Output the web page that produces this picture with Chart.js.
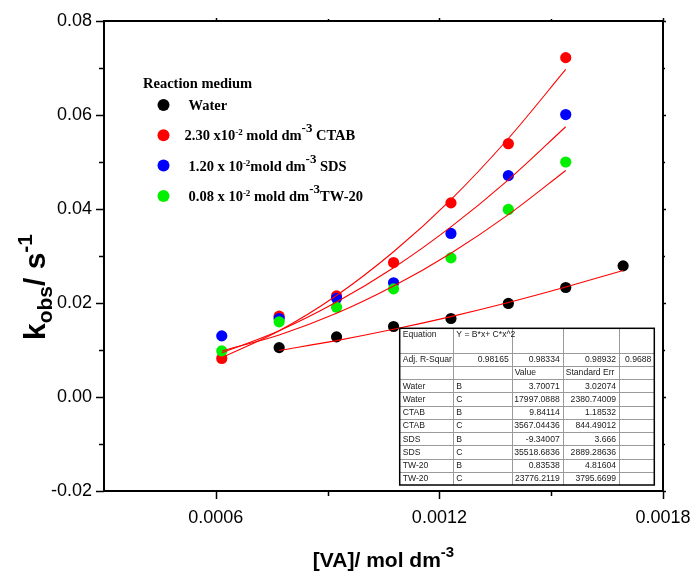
<!DOCTYPE html>
<html>
<head>
<meta charset="utf-8">
<script src="https://cdn.jsdelivr.net/npm/chart.js@4.4.1/dist/chart.umd.min.js"></script>
<style>
  html, body { margin: 0; padding: 0; background: #ffffff; }
  #wrap { width: 692px; height: 571px; }
</style>
</head>
<body>
<div id="wrap"><canvas id="chart" width="692" height="571"></canvas></div>
<script>
// [VA] concentrations (mol dm^-3)
const surfactantConc = [0.000616, 0.000770, 0.000924, 0.001077, 0.001231, 0.001385, 0.001539];
const waterConc = [0.000770, 0.000924, 0.001077, 0.001231, 0.001385, 0.001539, 0.001693];

// observed rate constants k_obs (s^-1)
const kWater = [0.0105, 0.0128, 0.0150, 0.0167, 0.0199, 0.0233, 0.0279];
const kCTAB  = [0.0082, 0.0172, 0.0215, 0.0286, 0.0413, 0.0539, 0.0722];
const kSDS   = [0.0130, 0.0167, 0.0210, 0.0243, 0.0348, 0.0471, 0.0601];
const kTW20  = [0.0098, 0.0160, 0.0191, 0.0230, 0.0296, 0.0399, 0.0500];

// fitted curves Y = B*x + C*x^2, sampled at the same concentrations
const fitWater = [0.0099, 0.0120, 0.0144, 0.0171, 0.0201, 0.0234, 0.0269];
const fitCTAB  = [0.0084, 0.0141, 0.0216, 0.0309, 0.0420, 0.0550, 0.0697];
const fitSDS   = [0.0094, 0.0141, 0.0202, 0.0275, 0.0362, 0.0462, 0.0575];
const fitTW20  = [0.0098, 0.0132, 0.0178, 0.0236, 0.0306, 0.0388, 0.0482];

// axis ticks
const xMajorTicks = [0.0006, 0.0012, 0.0018];
const xTickLabels = ['0.0006', '0.0012', '0.0018'];
const xMinorTicks = [0.0009, 0.0015];
const yMajorTicks = [-0.02, 0.00, 0.02, 0.04, 0.06, 0.08];
const yTickLabels = ['-0.02', '0.00', '0.02', '0.04', '0.06', '0.08'];
const yMinorTicks = [-0.01, 0.01, 0.03, 0.05, 0.07];

// legend
const legendTitle = 'Reaction medium';
const seriesColors = ['#000000', '#ff0000', '#0000ff', '#00f000'];
// segment kinds: 0 = normal, 1 = small superscript, 2 = large superscript
const legendLabels = [
  [['Water', 0]],
  [['2.30 x10', 0], ['-2', 1], [' mold dm', 0], ['-3', 2], [' CTAB', 0]],
  [['1.20 x 10', 0], ['-2', 1], ['mold dm', 0], ['-3', 2], [' SDS', 0]],
  [['0.08 x 10', 0], ['-2', 1], [' mold dm', 0], ['-3', 2], ['TW-20', 0]]
];

// fit report table
const fitEquation = 'Y = B*x+ C*x^2';
const adjRSquare = ['0.98165', '0.98334', '0.98932', '0.9688'];
const paramHeader = ['', '', 'Value', 'Standard Err', ''];
const paramSeries = ['Water', 'Water', 'CTAB', 'CTAB', 'SDS', 'SDS', 'TW-20', 'TW-20'];
const paramNames  = ['B', 'C', 'B', 'C', 'B', 'C', 'B', 'C'];
const paramValues = ['3.70071', '17997.0888', '9.84114', '3567.04436', '-9.34007', '35518.6836', '0.83538', '23776.2119'];
const paramErrors = ['3.02074', '2380.74009', '1.18532', '844.49012', '3.666', '2889.28636', '4.81604', '3795.6699'];

const SANS = '"Liberation Sans", Arial, Helvetica, sans-serif';
const SERIF = '"Liberation Serif", "Times New Roman", Times, serif';

function pts(xs, ys) { return xs.map((x, i) => ({ x: x, y: ys[i] })); }

function richWidth(ctx, segs) {
  let w = 0;
  for (const s of segs) { ctx.font = s.font; w += ctx.measureText(s.t).width; }
  return w;
}
function drawRich(ctx, segs, x, y) {
  let cx = x;
  for (const s of segs) {
    ctx.font = s.font;
    ctx.fillText(s.t, cx, y + s.dy);
    cx += ctx.measureText(s.t).width;
  }
}

const decorations = {
  id: 'decorations',
  afterDatasetsDraw(chart) {
    const ctx = chart.ctx;
    const area = chart.chartArea;
    const xs = chart.scales.x, ys = chart.scales.y;
    ctx.save();

    // frame
    ctx.strokeStyle = '#000';
    ctx.lineWidth = 2;
    ctx.strokeRect(area.left, area.top, area.right - area.left, area.bottom - area.top);

    // tick marks
    ctx.lineWidth = 1.5;
    ctx.beginPath();
    for (const v of xMajorTicks) {
      const px = Math.round(xs.getPixelForValue(v)) + 0.5;
      ctx.moveTo(px, area.bottom); ctx.lineTo(px, area.bottom + 8);
      ctx.moveTo(px, area.top); ctx.lineTo(px, area.top - 3);
    }
    for (const v of xMinorTicks) {
      const px = Math.round(xs.getPixelForValue(v)) + 0.5;
      ctx.moveTo(px, area.bottom); ctx.lineTo(px, area.bottom + 5);
      ctx.moveTo(px, area.top); ctx.lineTo(px, area.top - 2);
    }
    for (const v of yMajorTicks) {
      const py = Math.round(ys.getPixelForValue(v)) + 0.5;
      ctx.moveTo(area.left, py); ctx.lineTo(area.left - 8, py);
      ctx.moveTo(area.right, py); ctx.lineTo(area.right + 3, py);
    }
    for (const v of yMinorTicks) {
      const py = Math.round(ys.getPixelForValue(v)) + 0.5;
      ctx.moveTo(area.left, py); ctx.lineTo(area.left - 5, py);
      ctx.moveTo(area.right, py); ctx.lineTo(area.right + 2, py);
    }
    ctx.stroke();

    // axis titles
    ctx.fillStyle = '#000';
    ctx.textBaseline = 'alphabetic';
    const big = 'bold 21px ' + SANS, small = 'bold 15px ' + SANS;
    const xTitle = [
      { t: '[VA]/ mol dm', font: big, dy: 0 },
      { t: '-3', font: small, dy: -10 }
    ];
    const xw = richWidth(ctx, xTitle);
    drawRich(ctx, xTitle, (area.left + area.right) / 2 - xw / 2, 567);

    const bigY = 'bold 30px ' + SANS, smallY = 'bold 21px ' + SANS;
    const yTitle = [
      { t: 'k', font: bigY, dy: 0 },
      { t: 'obs', font: smallY, dy: 7 },
      { t: '/ s', font: bigY, dy: 0 },
      { t: '-1', font: smallY, dy: -13 }
    ];
    const yw = richWidth(ctx, yTitle);
    ctx.save();
    ctx.translate(45, 287);
    ctx.rotate(-Math.PI / 2);
    drawRich(ctx, yTitle, -yw / 2, 0);
    ctx.restore();

    // legend
    const lx = area.left + 39, ly = area.top + 67;
    ctx.font = 'bold 14.5px ' + SERIF;
    ctx.fillText(legendTitle, lx, ly);
    const kinds = [
      { font: 'bold 14.5px ' + SERIF, dy: 0 },
      { font: 'bold 9px ' + SERIF, dy: -5 },
      { font: 'bold 13px ' + SERIF, dy: -8 }
    ];
    legendLabels.forEach((label, i) => {
      const cy = ly + 17 + i * 30.3;
      ctx.fillStyle = seriesColors[i];
      ctx.beginPath();
      ctx.arc(lx + 20.5, cy, 6, 0, Math.PI * 2);
      ctx.fill();
      ctx.fillStyle = '#000';
      const segs = label.map(([t, k]) => ({ t: t, font: kinds[k].font, dy: kinds[k].dy }));
      drawRich(ctx, segs, lx + (i === 1 ? 41.5 : 45.5), cy + 5);
    });

    // fit report table
    const colW = [53.6, 58.4, 51, 56.3, 35.3];
    const firstRowH = 24.4, rowH = 13.23;
    const nRows = 10;
    const tW = colW.reduce((a, b) => a + b, 0);
    const tH = firstRowH + nRows * rowH;
    const tRight = area.right - 8.7, tBottom = area.bottom - 6;
    const tLeft = tRight - tW, tTop = tBottom - tH;
    ctx.fillStyle = '#fff';
    ctx.fillRect(tLeft, tTop, tW, tH);
    const colX = [tLeft];
    colW.forEach(w => colX.push(colX[colX.length - 1] + w));
    const rowY = [tTop, tTop + firstRowH];
    for (let r = 1; r <= nRows; r++) rowY.push(tTop + firstRowH + r * rowH);

    ctx.strokeStyle = '#9a9a9a';
    ctx.lineWidth = 1;
    ctx.beginPath();
    for (let c = 1; c < colX.length - 1; c++) { ctx.moveTo(Math.round(colX[c]) + 0.5, tTop); ctx.lineTo(Math.round(colX[c]) + 0.5, tBottom); }
    for (let r = 1; r < rowY.length - 1; r++) { ctx.moveTo(tLeft, Math.round(rowY[r]) + 0.5); ctx.lineTo(tRight, Math.round(rowY[r]) + 0.5); }
    ctx.stroke();
    ctx.strokeStyle = '#000';
    ctx.lineWidth = 1.5;
    ctx.strokeRect(tLeft, tTop, tW, tH);

    ctx.font = '8.6px ' + SANS;
    ctx.fillStyle = '#1a1a1a';
    ctx.textBaseline = 'middle';
    function cell(text, c, r, align, yOverride) {
      const y = yOverride !== undefined ? yOverride : (rowY[r] + rowY[r + 1]) / 2 + 0.5;
      ctx.save();
      ctx.beginPath();
      ctx.rect(colX[c] + 1, rowY[r], colW[c] - 2, rowY[r + 1] - rowY[r]);
      ctx.clip();
      if (align === 'right') { ctx.textAlign = 'right'; ctx.fillText(text, colX[c + 1] - 3, y); }
      else { ctx.textAlign = 'left'; ctx.fillText(text, colX[c] + 3, y); }
      ctx.restore();
    }
    cell('Equation', 0, 0, 'left', rowY[0] + 6.5);
    ctx.textAlign = 'left';
    ctx.fillText(fitEquation, colX[1] + 3, rowY[0] + 6.5);
    cell('Adj. R-Square', 0, 1, 'left');
    adjRSquare.forEach((v, i) => cell(v, i + 1, 1, 'right'));
    paramHeader.forEach((h, i) => { if (h) cell(h, i, 2, 'left'); });
    paramSeries.forEach((s, i) => {
      const r = i + 3;
      cell(s, 0, r, 'left');
      cell(paramNames[i], 1, r, 'left');
      cell(paramValues[i], 2, r, 'right');
      cell(paramErrors[i], 3, r, 'right');
    });

    ctx.restore();
  }
};

const fitStyle = {
  showLine: true, pointRadius: 0, borderColor: '#ff0000', borderWidth: 1.1,
  cubicInterpolationMode: 'monotone', fill: false, order: 0
};
const pointStyle = (color, order) => ({
  showLine: false, pointRadius: 5.6, pointHoverRadius: 5.6, pointBorderWidth: 0,
  backgroundColor: color, borderColor: color, order: order
});

new Chart(document.getElementById('chart'), {
  type: 'scatter',
  data: {
    datasets: [
      Object.assign({ label: 'Water fit', data: pts(waterConc, fitWater) }, fitStyle),
      Object.assign({ label: 'CTAB fit', data: pts(surfactantConc, fitCTAB) }, fitStyle),
      Object.assign({ label: 'SDS fit', data: pts(surfactantConc, fitSDS) }, fitStyle),
      Object.assign({ label: 'TW-20 fit', data: pts(surfactantConc, fitTW20) }, fitStyle),
      Object.assign({ label: 'TW-20', data: pts(surfactantConc, kTW20) }, pointStyle(seriesColors[3], 1)),
      Object.assign({ label: 'SDS', data: pts(surfactantConc, kSDS) }, pointStyle(seriesColors[2], 2)),
      Object.assign({ label: 'CTAB', data: pts(surfactantConc, kCTAB) }, pointStyle(seriesColors[1], 3)),
      Object.assign({ label: 'Water', data: pts(waterConc, kWater) }, pointStyle(seriesColors[0], 4))
    ]
  },
  options: {
    responsive: false,
    animation: false,
    devicePixelRatio: 1,
    layout: { padding: { top: 21, right: 29, left: 0, bottom: 0 } },
    plugins: { legend: { display: false }, tooltip: { enabled: false } },
    scales: {
      x: {
        type: 'linear', min: 0.0003, max: 0.0018,
        afterBuildTicks: s => { s.ticks = xMajorTicks.map(v => ({ value: v })); },
        afterFit: s => { s.height = 80; s.paddingLeft = 0; s.paddingRight = 0; },
        ticks: {
          callback: (v, i) => xTickLabels[i],
          font: { family: SANS, size: 18 }, color: '#000',
          padding: 16, maxRotation: 0, autoSkip: false
        },
        grid: { display: false, drawTicks: false },
        border: { display: false }
      },
      y: {
        type: 'linear', min: -0.02, max: 0.08,
        afterBuildTicks: s => { s.ticks = yMajorTicks.map(v => ({ value: v })); },
        afterFit: s => { s.width = 104; s.paddingTop = 0; s.paddingBottom = 0; },
        ticks: {
          callback: (v, i) => yTickLabels[i],
          font: { family: SANS, size: 18 }, color: '#000',
          padding: 12, autoSkip: false
        },
        grid: { display: false, drawTicks: false },
        border: { display: false }
      }
    }
  },
  plugins: [decorations]
});
</script>
</body>
</html>
